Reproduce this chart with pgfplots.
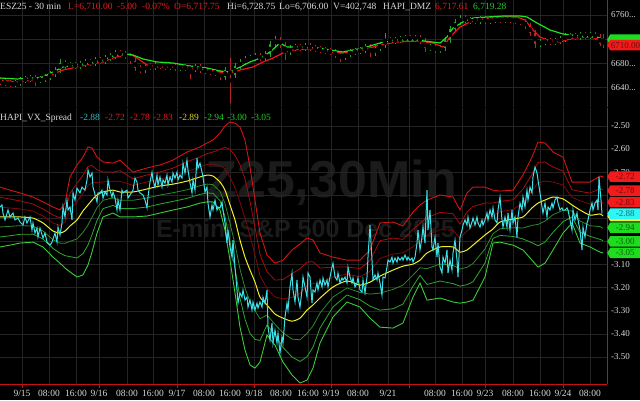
\documentclass[border=0pt]{standalone}
\usepackage{pgfplots}
\pgfplotsset{compat=1.18}
\usepackage{pgfplotstable}
\usepackage{fontspec}
\setmainfont{Liberation Serif}
\newfontfamily\wmfont{Liberation Sans}
\usetikzlibrary{shapes.symbols}

\definecolor{cgrid}{HTML}{242424}
\definecolor{caxis}{HTML}{C81010}
\definecolor{ctxt}{HTML}{D8D8D8}
\definecolor{cred}{HTML}{E02020}
\definecolor{cgreen}{HTML}{22CC22}
\definecolor{ccyan}{HTML}{3CE0E6}
\definecolor{cyellow}{HTML}{F2F022}
\definecolor{rthree}{HTML}{D41414}
\definecolor{rtwo}{HTML}{A80C0C}
\definecolor{rone}{HTML}{820808}
\definecolor{gone}{HTML}{2A8A2A}
\definecolor{gtwo}{HTML}{2EA82E}
\definecolor{gthree}{HTML}{3ACC3A}
\definecolor{wm}{HTML}{1B1B1B}
\definecolor{cup}{HTML}{2F9E2F}
\definecolor{cdn}{HTML}{B02828}
\definecolor{maG}{HTML}{22E022}
\definecolor{maR}{HTML}{F01414}
\definecolor{tagR}{HTML}{F21A1A}
\definecolor{tagG}{HTML}{1EDC1E}
\definecolor{tagC}{HTML}{2EF6F6}
\definecolor{tagY}{HTML}{F2F022}

% Bollinger-type bands of the spread: mean, outer upper band, outer lower band
\pgfplotstableread{
x m hi lo
0 -2.894 -2.765 -3.024
10 -2.894 -2.778 -3.016
20 -2.894 -2.790 -3.007
33 -2.899 -2.808 -3.003
43 -2.920 -2.829 -3.024
53 -2.955 -2.851 -3.068
60 -2.964 -2.864 -3.094
65 -2.955 -2.834 -3.115
70 -2.933 -2.721 -3.132
77 -2.907 -2.669 -3.154
83 -2.868 -2.635 -3.145
88 -2.842 -2.591 -3.102
92 -2.821 -2.596 -3.046
97 -2.799 -2.635 -2.964
103 -2.786 -2.656 -2.894
113 -2.778 -2.661 -2.877
120 -2.786 -2.648 -2.894
133 -2.786 -2.700 -2.894
147 -2.773 -2.682 -2.890
160 -2.760 -2.669 -2.877
173 -2.752 -2.648 -2.864
187 -2.739 -2.613 -2.851
200 -2.721 -2.591 -2.834
207 -2.713 -2.574 -2.829
213 -2.717 -2.561 -2.829
220 -2.743 -2.531 -2.864
225 -2.778 -2.500 -2.951
230 -2.842 -2.483 -3.081
235 -2.907 -2.488 -3.223
240 -2.994 -2.505 -3.371
245 -3.068 -2.561 -3.470
250 -3.124 -2.678 -3.535
255 -3.176 -2.821 -3.548
260 -3.241 -2.964 -3.522
267 -3.275 -3.059 -3.405
275 -3.314 -3.094 -3.449
283 -3.332 -3.081 -3.522
292 -3.345 -3.037 -3.578
300 -3.332 -3.011 -3.613
307 -3.297 -2.985 -3.600
313 -3.275 -2.994 -3.548
320 -3.245 -3.050 -3.440
333 -3.197 -3.068 -3.327
347 -3.171 -3.081 -3.262
360 -3.189 -3.081 -3.284
370 -3.176 -3.037 -3.332
380 -3.150 -2.920 -3.371
393 -3.124 -2.916 -3.375
403 -3.107 -2.933 -3.353
413 -3.098 -2.873 -3.241
420 -3.081 -2.842 -3.180
427 -3.050 -2.821 -3.254
440 -3.024 -2.799 -3.245
453 -3.024 -2.808 -3.262
460 -3.046 -2.864 -3.267
467 -3.037 -2.790 -3.262
473 -3.016 -2.765 -3.254
485 -2.972 -2.765 -3.154
493 -2.946 -2.778 -3.007
500 -2.916 -2.782 -3.003
513 -2.903 -2.778 -3.016
523 -2.894 -2.713 -3.037
532 -2.855 -2.635 -3.081
538 -2.834 -2.570 -3.111
545 -2.821 -2.574 -3.094
553 -2.808 -2.613 -3.037
563 -2.816 -2.635 -2.964
572 -2.842 -2.743 -2.920
580 -2.864 -2.743 -3.007
590 -2.886 -2.743 -3.024
600 -2.881 -2.717 -3.046
603 -2.890 -2.720 -3.050
}\bands

% HAPI_VX_Spread
\pgfplotstableread{
x v
0 -2.851
2 -2.842
3 -2.877
5 -2.907
8 -2.864
10 -2.894
13 -2.877
15 -2.907
18 -2.899
20 -2.916
23 -2.929
25 -2.894
27 -2.920
30 -2.894
32 -2.951
33 -2.920
35 -2.964
37 -2.942
38 -2.981
40 -2.942
43 -2.985
45 -2.964
47 -3.003
50 -3.016
52 -3.003
55 -2.964
57 -3.003
58 -2.938
60 -2.972
62 -2.920
63 -2.851
65 -2.894
67 -2.821
68 -2.864
70 -2.851
72 -2.907
73 -2.790
75 -2.821
77 -2.769
80 -2.790
82 -2.765
85 -2.778
87 -2.734
88 -2.691
90 -2.721
92 -2.704
93 -2.765
97 -2.829
98 -2.790
100 -2.790
102 -2.778
103 -2.812
105 -2.786
107 -2.799
108 -2.734
110 -2.778
112 -2.808
113 -2.786
115 -2.812
117 -2.864
118 -2.821
120 -2.864
122 -2.778
123 -2.790
127 -2.778
128 -2.812
130 -2.799
133 -2.778
135 -2.726
137 -2.743
138 -2.778
140 -2.790
143 -2.799
145 -2.821
147 -2.855
148 -2.808
150 -2.743
152 -2.700
153 -2.734
155 -2.765
157 -2.713
158 -2.756
160 -2.721
162 -2.765
163 -2.734
165 -2.747
167 -2.713
168 -2.756
170 -2.721
172 -2.743
173 -2.704
175 -2.726
177 -2.700
178 -2.734
180 -2.713
182 -2.726
183 -2.661
185 -2.704
187 -2.648
188 -2.691
190 -2.747
192 -2.790
193 -2.734
195 -2.778
197 -2.639
198 -2.682
200 -2.661
202 -2.700
203 -2.721
205 -2.786
207 -2.765
208 -2.834
210 -2.894
212 -2.842
213 -2.864
215 -2.821
217 -2.864
218 -2.851
220 -2.855
222 -2.829
223 -2.864
225 -2.920
227 -3.007
228 -2.951
230 -3.024
232 -3.068
233 -2.994
235 -3.111
237 -3.210
238 -3.267
240 -3.223
242 -3.241
243 -3.210
245 -3.254
247 -3.241
248 -3.284
250 -3.254
252 -3.297
253 -3.262
255 -3.297
257 -3.267
258 -3.288
260 -3.262
262 -3.284
263 -3.241
265 -3.267
267 -3.210
268 -3.371
270 -3.427
272 -3.353
273 -3.440
275 -3.384
277 -3.440
278 -3.397
280 -3.483
282 -3.414
283 -3.440
285 -3.327
287 -3.267
288 -3.297
290 -3.197
292 -3.137
293 -3.210
295 -3.262
297 -3.167
298 -3.241
300 -3.284
302 -3.210
303 -3.154
305 -3.197
307 -3.241
308 -3.137
310 -3.154
312 -3.267
313 -3.210
315 -3.219
317 -3.180
318 -3.210
320 -3.167
322 -3.197
323 -3.158
325 -3.189
327 -3.167
328 -3.197
330 -3.154
332 -3.111
333 -3.094
335 -3.154
337 -3.167
338 -3.137
340 -3.180
342 -3.158
343 -3.167
345 -3.154
347 -3.180
348 -3.111
350 -3.154
352 -3.180
353 -3.158
355 -3.197
357 -3.180
358 -3.158
360 -3.210
362 -3.219
363 -3.167
365 -3.223
367 -3.154
368 -3.068
370 -2.929
372 -3.081
373 -3.167
375 -3.145
377 -3.167
378 -3.137
380 -3.180
382 -3.232
383 -3.154
385 -3.158
387 -3.111
388 -3.081
390 -3.089
392 -3.068
393 -3.094
395 -3.072
397 -3.089
398 -3.068
400 -3.081
402 -3.068
403 -3.081
405 -3.059
407 -3.081
408 -3.068
410 -3.081
412 -3.072
413 -3.089
415 -3.068
417 -3.007
418 -2.951
420 -3.037
422 -2.981
423 -2.938
425 -3.007
427 -2.778
428 -2.951
430 -2.864
432 -3.024
433 -3.037
435 -2.981
437 -3.068
438 -3.007
440 -3.111
442 -3.137
443 -3.068
445 -3.094
447 -3.037
448 -3.137
450 -3.081
452 -3.124
453 -3.050
455 -2.994
457 -3.081
458 -3.154
460 -2.981
462 -2.951
463 -2.929
465 -2.907
467 -2.929
468 -2.894
470 -2.942
472 -2.916
473 -2.899
475 -2.929
477 -2.894
478 -2.920
480 -2.938
482 -2.907
483 -2.929
485 -2.907
487 -2.877
488 -2.907
490 -2.864
492 -2.894
493 -2.855
495 -2.907
497 -2.920
498 -2.864
500 -2.808
502 -2.907
503 -2.938
505 -2.894
507 -2.938
508 -2.877
510 -2.951
512 -2.864
513 -2.920
515 -2.894
517 -2.981
518 -2.894
520 -2.834
522 -2.864
523 -2.808
525 -2.851
527 -2.778
528 -2.821
530 -2.765
532 -2.790
533 -2.721
535 -2.678
537 -2.704
538 -2.734
540 -2.790
542 -2.851
543 -2.877
545 -2.834
547 -2.894
548 -2.851
550 -2.864
552 -2.834
553 -2.855
555 -2.821
557 -2.808
558 -2.834
560 -2.864
562 -2.855
563 -2.864
565 -2.864
567 -2.855
568 -2.864
570 -2.907
572 -2.951
573 -2.864
575 -2.907
577 -2.877
578 -2.907
580 -2.951
582 -3.037
583 -2.938
585 -2.981
587 -2.920
588 -2.907
590 -2.864
592 -2.834
593 -2.864
595 -2.834
597 -2.821
598 -2.864
599 -2.721
601 -2.821
602 -2.880
}\spread

% ES 30-min candles: open high low close
\pgfplotstableread{
x o h l c
0 6651.0 6656.0 6644.0 6648.8
5 6648.8 6653.8 6642.1 6647.1
10 6647.1 6652.1 6640.5 6645.5
15 6645.5 6652.1 6640.5 6647.1
20 6647.1 6657.1 6642.1 6652.1
25 6652.1 6658.8 6647.1 6653.8
30 6653.8 6660.4 6648.8 6655.4
35 6655.4 6660.4 6642.5 6652.1
40 6652.1 6658.8 6647.1 6653.8
45 6653.8 6662.1 6648.8 6657.1
50 6657.1 6667.1 6652.1 6662.1
55 6662.1 6673.7 6657.1 6668.7
60 6668.7 6686.6 6663.7 6680.3
65 6680.3 6685.3 6670.3 6675.3
70 6675.3 6682.0 6670.3 6677.0
75 6677.0 6682.0 6670.3 6675.3
80 6675.3 6683.7 6670.3 6678.7
85 6678.7 6687.0 6673.7 6682.0
90 6682.0 6687.0 6676.0 6681.0
95 6681.0 6690.3 6676.0 6685.3
100 6685.3 6690.3 6678.6 6683.6
105 6683.6 6693.6 6678.6 6688.6
110 6688.6 6696.9 6683.6 6691.9
115 6691.9 6702.0 6686.9 6696.9
120 6696.9 6701.9 6690.3 6695.3
125 6695.3 6700.3 6686.9 6691.9
130 6691.9 6696.9 6678.6 6683.6
135 6683.6 6688.6 6667.0 6672.0
140 6672.0 6677.0 6663.7 6668.7
145 6668.7 6680.3 6663.7 6675.3
150 6675.3 6680.3 6668.7 6673.7
155 6673.7 6682.0 6668.7 6677.0
160 6677.0 6682.0 6670.3 6675.3
165 6675.3 6680.3 6668.7 6673.7
170 6673.7 6680.3 6668.7 6675.3
175 6675.3 6680.3 6667.0 6672.0
180 6672.0 6678.7 6667.0 6673.7
185 6673.7 6678.7 6667.0 6672.0
190 6672.0 6677.0 6654.1 6670.4
195 6670.4 6678.7 6665.4 6673.7
200 6673.7 6678.7 6663.7 6668.7
205 6668.7 6673.7 6662.0 6667.0
210 6667.0 6672.0 6660.4 6665.4
215 6665.4 6670.4 6658.7 6663.7
220 6663.7 6668.7 6652.1 6657.1
225 6657.1 6673.7 6652.1 6668.7
230 6668.7 6688.6 6614.0 6660.4
235 6660.4 6680.3 6655.4 6675.3
240 6675.3 6687.0 6670.3 6682.0
245 6682.0 6692.0 6677.0 6687.0
250 6687.0 6693.6 6682.0 6688.6
255 6688.6 6696.9 6683.6 6691.9
260 6691.9 6696.9 6683.6 6688.6
265 6688.6 6700.3 6683.6 6695.3
270 6695.3 6716.9 6690.3 6711.9
275 6711.9 6725.0 6706.9 6718.5
280 6718.5 6723.5 6705.2 6710.2
285 6710.2 6715.2 6685.3 6698.6
290 6698.6 6710.2 6693.6 6705.2
295 6705.2 6711.9 6700.2 6706.9
300 6706.9 6711.9 6700.2 6705.2
305 6705.2 6713.5 6700.2 6708.5
310 6708.5 6713.5 6700.2 6705.2
315 6705.2 6710.2 6698.6 6703.6
320 6703.6 6708.6 6696.9 6701.9
325 6701.9 6706.9 6695.2 6700.2
330 6700.2 6705.2 6693.6 6698.6
335 6698.6 6703.6 6688.6 6693.6
340 6693.6 6698.6 6682.0 6690.3
345 6690.3 6700.3 6685.3 6695.3
350 6695.3 6703.6 6690.3 6698.6
355 6698.6 6705.2 6693.6 6700.2
360 6700.2 6706.9 6695.2 6701.9
365 6701.9 6711.9 6696.9 6706.9
370 6706.9 6711.9 6690.3 6696.9
375 6696.9 6710.2 6691.9 6705.2
380 6705.2 6715.2 6700.2 6710.2
385 6710.2 6730.1 6705.2 6718.5
390 6718.5 6723.5 6711.8 6716.8
395 6716.8 6723.5 6711.8 6718.5
400 6718.5 6725.2 6713.5 6720.2
405 6720.2 6726.8 6715.2 6721.8
410 6721.8 6726.8 6715.2 6720.2
415 6720.2 6726.8 6715.2 6721.8
420 6721.8 6726.8 6711.8 6716.8
425 6716.8 6721.8 6698.6 6705.2
430 6705.2 6711.9 6700.2 6706.9
435 6706.9 6711.9 6696.9 6701.9
440 6701.9 6710.2 6696.9 6705.2
445 6705.2 6723.5 6700.2 6718.5
450 6718.5 6741.8 6713.5 6736.8
455 6736.8 6753.4 6731.8 6748.4
460 6748.4 6760.0 6743.4 6755.0
465 6755.0 6760.0 6745.0 6750.0
470 6750.0 6756.7 6745.0 6751.7
475 6751.7 6756.7 6745.5 6750.5
480 6750.5 6758.4 6745.5 6753.4
485 6753.4 6758.4 6745.0 6750.0
490 6750.0 6756.7 6745.0 6751.7
495 6751.7 6758.4 6746.7 6753.4
500 6753.4 6758.4 6746.7 6751.7
505 6751.7 6758.4 6746.7 6753.4
510 6753.4 6758.4 6746.7 6751.7
515 6751.7 6756.7 6745.0 6750.0
520 6750.0 6755.0 6743.4 6748.4
525 6748.4 6753.4 6736.7 6741.7
530 6741.7 6746.7 6725.1 6730.1
535 6730.1 6735.1 6705.2 6711.9
540 6711.9 6720.2 6706.9 6715.2
545 6715.2 6721.8 6710.2 6716.8
550 6716.8 6721.8 6710.2 6715.2
555 6715.2 6721.8 6710.2 6716.8
560 6716.8 6725.2 6711.8 6720.2
565 6720.2 6730.1 6715.2 6723.5
570 6723.5 6730.1 6718.5 6725.1
575 6725.1 6730.1 6719.0 6724.0
580 6724.0 6731.8 6719.0 6726.8
585 6726.8 6731.8 6720.5 6725.5
590 6725.5 6731.8 6720.5 6726.8
595 6726.8 6731.8 6718.5 6723.5
600 6723.5 6728.5 6708.5 6711.9
603 6717.75 6728.75 6706.0 6710.0
}\candles

% HAPI_DMZ averages
\pgfplotstableread{
x g
0 6655.4
17 6653.8
33 6655.4
43 6657.1
53 6665.4
63 6673.7
77 6677.0
90 6680.3
103 6685.3
113 6691.9
123 6695.3
133 6693.6
143 6687.0
157 6682.0
173 6680.3
190 6675.3
207 6672.0
220 6667.0
230 6665.4
240 6673.7
250 6682.0
260 6688.6
270 6698.6
280 6713.5
287 6706.9
300 6706.9
320 6705.2
330 6701.9
343 6698.6
363 6705.2
380 6713.5
397 6718.5
417 6718.5
440 6713.5
447 6723.5
453 6738.4
463 6748.4
473 6755.0
487 6756.7
503 6758.3
520 6758.3
527 6756.7
537 6746.7
550 6735.1
563 6728.5
580 6725.1
597 6723.5
603 6719.3
}\maGreen

\pgfplotstableread{
x r
0 6652.1
17 6648.8
33 6652.1
43 6657.1
53 6662.1
63 6668.7
77 6673.7
90 6678.7
103 6682.0
113 6688.6
123 6693.6
130 6695.3
137 6688.6
147 6677.0
157 6673.7
173 6673.7
190 6672.0
207 6668.7
220 6665.4
230 6663.7
240 6668.7
253 6673.7
263 6682.0
273 6688.6
283 6696.9
293 6701.9
307 6703.6
320 6705.2
330 6698.6
343 6696.9
363 6701.9
380 6710.2
397 6715.2
417 6716.8
433 6713.5
443 6706.9
450 6723.5
460 6740.1
470 6748.4
483 6753.4
500 6756.7
517 6756.7
525 6751.7
533 6735.1
540 6723.5
550 6716.8
560 6715.2
573 6721.8
590 6723.5
603 6717.6
}\maRed

\begin{document}
\begin{tikzpicture}[
  tag/.style={signal, signal to=west, signal pointer angle=120,
    minimum height=10.5pt, minimum width=33pt, inner sep=0.6pt, anchor=west,
    font=\fontsize{9}{9}\selectfont},
  hd/.style={anchor=base west, inner sep=0pt, font=\fontsize{9.5}{10}\selectfont}]
\fill[black] (0,0) rectangle (640pt,400pt);

% watermark
\node[text=wm, anchor=base east, inner sep=0pt, font=\wmfont\bfseries\fontsize{52}{52}\selectfont] at (457pt,203pt) {Z25,30Min};
\node[text=wm, anchor=base east, inner sep=0pt, font=\wmfont\bfseries\fontsize{25}{25}\selectfont] at (455pt,163pt) {E-mini S\&P 500 Dec 2025};

\pgfplotsset{
  panel/.style={
    scale only axis, width=607pt, xmin=0, xmax=607,
    anchor=south west,
    axis y line*=right,
    axis x line*=bottom,
    axis line style={caxis, line width=0.8pt},
    major tick length=0pt,
    grid=major, major grid style={cgrid, line width=0.5pt},
    tick label style={ctxt, font=\fontsize{9}{9}\selectfont},
    yticklabel style={anchor=west, xshift=0.5pt},
    xtick={22,49,76,99,127,153,177,204,230,254,281,308,331,358,388,409,435,462,485,513,540,563,590},
    clip=false,
  }
}

% ---------- lower panel: HAPI_VX_Spread ----------
\begin{axis}[panel, at={(0pt,16pt)}, height=276pt,
  ymin=-3.617, ymax=-2.4225,
  ytick={-3.5,-3.4,-3.3,-3.2,-3.1,-3.0,-2.9,-2.8,-2.7,-2.6,-2.5},
  yticklabels={-3.50,-3.40,-3.30,-3.20,-3.10,,,,-2.70,-2.60,-2.50},
  xticklabels={9/15,08:00,16:00,9/16,08:00,16:00,9/17,08:00,16:00,9/18,08:00,16:00,9/19,08:00,9/21,,08:00,16:00,9/23,08:00,16:00,9/24,08:00},
  xticklabel style={font=\fontsize{9.5}{10}\selectfont, yshift=-2.5pt},
  extra x ticks={22,99,177,254,331,409,485,563},
  extra x tick labels={},
  extra x tick style={grid=none, major tick length=3.5pt, tick align=outside,
    major tick style={caxis, line width=0.8pt}},
]
\addplot[rthree, line width=0.9pt] table[x=x, y=hi] {\bands};
\addplot[rtwo, line width=0.8pt] table[x=x, y expr={\thisrow{m}+2/3*(\thisrow{hi}-\thisrow{m})}] {\bands};
\addplot[rone, line width=0.8pt] table[x=x, y expr={\thisrow{m}+1/3*(\thisrow{hi}-\thisrow{m})}] {\bands};
\addplot[gone, line width=0.8pt] table[x=x, y expr={\thisrow{m}-1/3*(\thisrow{m}-\thisrow{lo})}] {\bands};
\addplot[gtwo, line width=0.8pt] table[x=x, y expr={\thisrow{m}-2/3*(\thisrow{m}-\thisrow{lo})}] {\bands};
\addplot[gthree, line width=0.9pt] table[x=x, y=lo] {\bands};
\addplot[cyellow, line width=1pt, smooth, tension=0.4] table[x=x, y=m] {\bands};
\addplot[ccyan, line width=1pt] table[x=x, y=v] {\spread};

\node[tag, fill=tagR, text=black!55!tagR] at (axis cs:607,-2.72) {-2.72};
\node[tag, fill=tagR, text=black!55!tagR] at (axis cs:607,-2.78) {-2.78};
\node[tag, fill=tagR, text=black!55!tagR] at (axis cs:607,-2.83) {-2.83};
\node[tag, fill=tagY] at (axis cs:607,-2.89) {};
\node[tag, fill=tagC, text=black!55!tagC] at (axis cs:607,-2.88) {-2.88};
\node[tag, fill=tagG, text=black!55!tagG] at (axis cs:607,-2.94) {-2.94};
\node[tag, fill=tagG, text=black!55!tagG] at (axis cs:607,-3.00) {-3.00};
\node[tag, fill=tagG, text=black!55!tagG] at (axis cs:607,-3.05) {-3.05};
\end{axis}

% ---------- upper panel: ESZ25 30 min ----------
\begin{axis}[panel, at={(0pt,293pt)}, height=107pt,
  ymin=6607.3, ymax=6784.9,
  x axis line style={draw=none},
  xticklabels={},
  ytick={6640,6680,6720,6760},
  yticklabels={6640.{}.{}.,6680.{}.{}.,,6760.{}.{}.},
]
\addplot[restrict expr to domain={\thisrow{c}-\thisrow{o}}{0:1000}, only marks, mark=none,
  error bars/.cd, y dir=both, y explicit, error mark=none,
  error bar style={draw=cup, line width=0.9pt}]
  table[x=x, y expr={(\thisrow{h}+\thisrow{l})/2}, y error expr={(\thisrow{h}-\thisrow{l})/2}] {\candles};
\addplot[restrict expr to domain={\thisrow{c}-\thisrow{o}}{-1000:-0.001}, only marks, mark=none,
  error bars/.cd, y dir=both, y explicit, error mark=none,
  error bar style={draw=cdn, line width=0.9pt}]
  table[x=x, y expr={(\thisrow{h}+\thisrow{l})/2}, y error expr={(\thisrow{h}-\thisrow{l})/2}] {\candles};
\addplot[restrict expr to domain={\thisrow{c}-\thisrow{o}}{0:1000}, only marks, mark=none,
  error bars/.cd, y dir=both, y explicit, error mark=none,
  error bar style={draw=cup, line width=2.8pt}]
  table[x=x, y expr={(\thisrow{o}+\thisrow{c})/2}, y error expr={max(abs(\thisrow{c}-\thisrow{o})/2,1.5)}] {\candles};
\addplot[restrict expr to domain={\thisrow{c}-\thisrow{o}}{-1000:-0.001}, only marks, mark=none,
  error bars/.cd, y dir=both, y explicit, error mark=none,
  error bar style={draw=cdn, line width=2.8pt}]
  table[x=x, y expr={(\thisrow{o}+\thisrow{c})/2}, y error expr={max(abs(\thisrow{c}-\thisrow{o})/2,1.5)}] {\candles};
\addplot[maR, line width=1.2pt] table[x=x, y=r] {\maRed};
\addplot[maG, line width=1.2pt] table[x=x, y=g] {\maGreen};

\node[tag, fill=tagR] at (axis cs:607,6717.61) {};
\node[tag, fill=tagG] at (axis cs:607,6719.28) {};
\node[tag, fill=tagR, text=black!55!tagR] at (axis cs:607,6710) {6710.00};
\end{axis}

% header lines
\node[hd, text=ctxt] at (0pt,390.5pt) {ESZ25 - 30 min};
\node[hd, text=cred] at (68pt,390.5pt) {L=6,710.00};
\node[hd, text=cred] at (117pt,390.5pt) {-5.00};
\node[hd, text=cred] at (142pt,390.5pt) {-0.07\%};
\node[hd, text=cred] at (174pt,390.5pt) {O=6,717.75};
\node[hd, text=ctxt] at (227pt,390.5pt) {Hi=6,728.75};
\node[hd, text=ctxt] at (279pt,390.5pt) {Lo=6,706.00};
\node[hd, text=ctxt] at (333pt,390.5pt) {V=402,748};
\node[hd, text=ctxt] at (383pt,390.5pt) {HAPI\_DMZ};
\node[hd, text=cred] at (435pt,390.5pt) {6,717.61};
\node[hd, text=cgreen] at (473pt,390.5pt) {6,719.28};

\node[hd, text=ctxt] at (0pt,280pt) {HAPI\_VX\_Spread};
\node[hd, text=ccyan!85!black] at (80pt,280pt) {-2.88};
\node[hd, text=cred] at (105pt,280pt) {-2.72};
\node[hd, text=cred] at (130pt,280pt) {-2.78};
\node[hd, text=cred] at (153pt,280pt) {-2.83};
\node[hd, text=cyellow!90!black] at (179pt,280pt) {-2.89};
\node[hd, text=cgreen] at (204pt,280pt) {-2.94};
\node[hd, text=cgreen] at (227pt,280pt) {-3.00};
\node[hd, text=cgreen] at (251pt,280pt) {-3.05};

\pgfresetboundingbox
\path (0,0) rectangle (640pt,400pt);
\end{tikzpicture}
\end{document}
